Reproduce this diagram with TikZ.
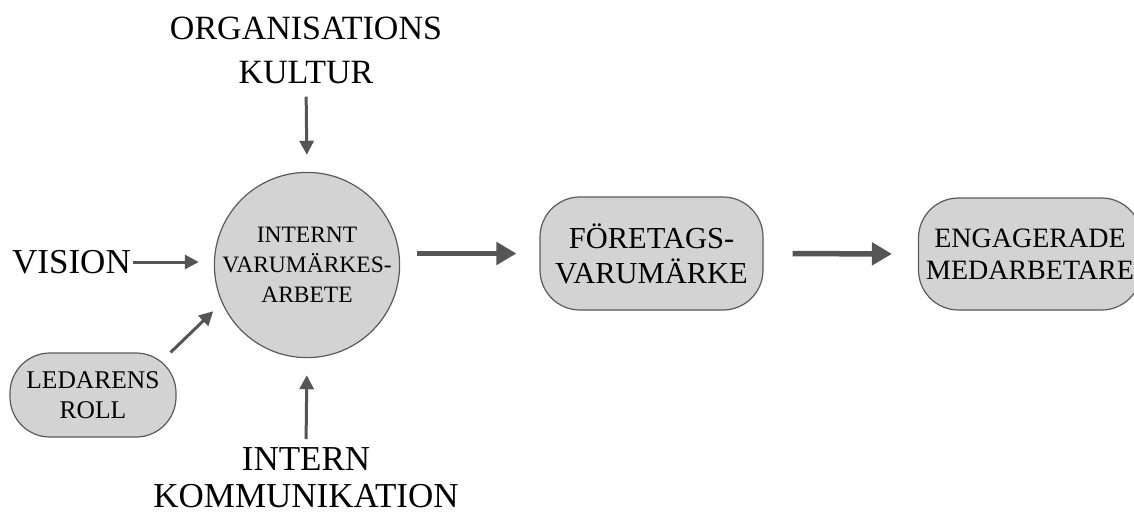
\documentclass[tikz,border=0pt]{standalone}
\usepackage{fontspec}
\setmainfont{Liberation Serif}
\usetikzlibrary{arrows.meta}
\definecolor{boxfill}{HTML}{D3D3D3}
\definecolor{boxline}{HTML}{5A5A5A}
\definecolor{arrowc}{HTML}{555555}
\tikzset{
  lbl/.style={inner sep=0pt, align=center, text=black},
  shapebox/.style={draw=boxline, line width=1.2pt, fill=boxfill, inner sep=0pt, align=center},
  thinarrow/.style={draw=arrowc, line width=3pt, -{Triangle[length=14pt,width=14pt]}},
  thickarrow/.style={draw=arrowc, line width=5.5pt, -{Triangle[length=20pt,width=22pt]}},
}
\begin{document}
\begin{tikzpicture}[x=1pt,y=-1pt]
\clip (0,0) rectangle (1134,514);
\fill[white] (0,0) rectangle (1134,514);

\node[shapebox, circle, minimum size=182pt, font=\fontsize{23.5}{30}\selectfont] (c) at (307,265) {INTERNT\\VARUMÄRKES-\\ARBETE};

\node[lbl, font=\fontsize{34}{44}\selectfont] (org) at (306,50) {ORGANISATIONS\\KULTUR};
\node[lbl, font=\fontsize{35}{37}\selectfont] (kom) at (306,477.5) {INTERN\\KOMMUNIKATION};
\node[lbl, font=\fontsize{35}{40}\selectfont] (vis) at (71.5,262) {VISION};

\node[shapebox, rectangle, rounded corners=40pt, minimum width=166pt, minimum height=84pt, font=\fontsize{25.5}{30}\selectfont] (led) at (93,395) {LEDARENS\\ROLL};

\node[shapebox, rectangle, rounded corners=40pt, minimum width=223pt, minimum height=113pt, font=\fontsize{30.5}{35}\selectfont] (for) at (651.5,253.5) {FÖRETAGS-\\VARUMÄRKE};

\node[shapebox, rectangle, rounded corners=40pt, minimum width=223pt, minimum height=112pt, font=\fontsize{28}{32}\selectfont] (eng) at (1030,254) {ENGAGERADE\\MEDARBETARE};

\draw[thinarrow, shorten <=2pt, shorten >=15pt] (vis.east) -- (c.west |- vis.east);
\draw[thinarrow, shorten <=13pt, shorten >=17pt] (org.south) -- (c.north);
\draw[thinarrow, shorten <=8pt, shorten >=17pt] (kom.north) -- (c.south);
\draw[thinarrow, shorten >=12pt] ([xshift=-6pt]led.north east) -- (c.204);

\draw[thickarrow, shorten <=17pt, shorten >=23pt] (c.east |- for.west) -- (for.west);
\draw[thickarrow, shorten <=29pt, shorten >=26pt] (for.east) -- (eng.west);
\end{tikzpicture}
\end{document}
